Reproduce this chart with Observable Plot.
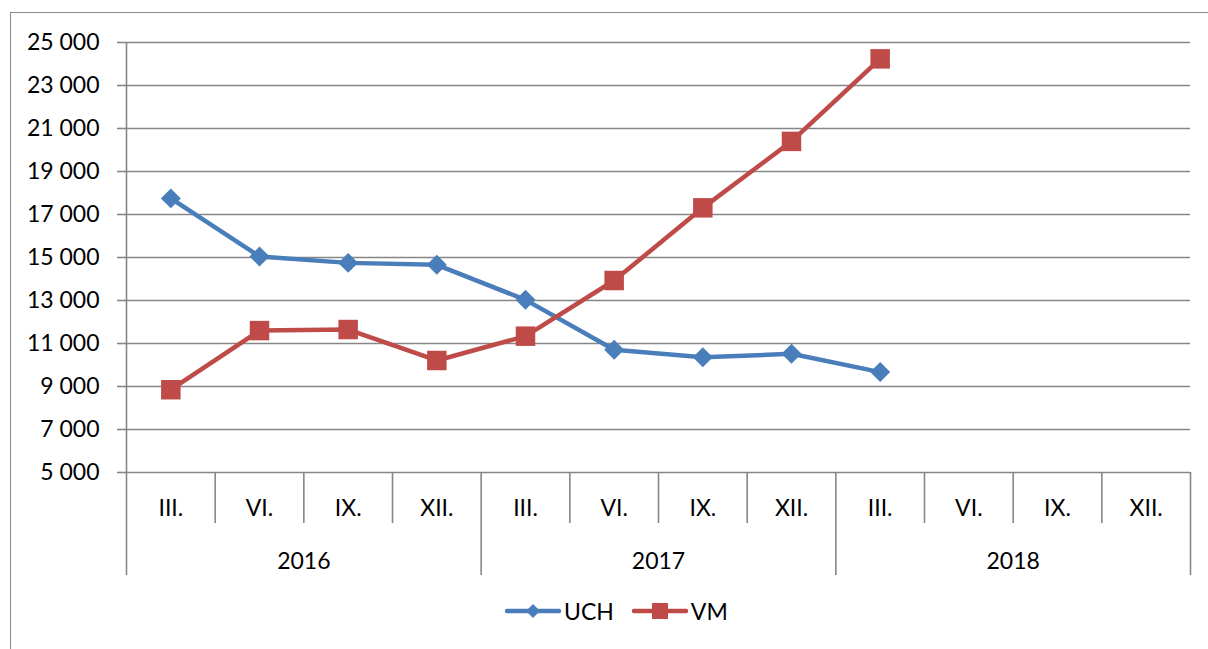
<!DOCTYPE html>
<html>
<head>
<meta charset="utf-8">
<script src="https://cdn.jsdelivr.net/npm/d3@7"></script>
<script src="https://cdn.jsdelivr.net/npm/@observablehq/plot@0.6"></script>
<style>
  html, body { margin: 0; padding: 0; background: #fff; }
  #wrap { position: relative; width: 1208px; height: 649px; overflow: hidden; font-family: Lato, "Open Sans", sans-serif; }
  #frame { position: absolute; left: 10px; top: 12px; width: 1300px; height: 700px; border-left: 1.5px solid #8a8a8a; border-top: 1.5px solid #8a8a8a; }
  #chart { position: absolute; left: 0; top: 0; }
  #legend { position: absolute; left: 505px; top: 597px; display: flex; align-items: center; gap: 18px; font-size: 23px; color: #000; }
  .item { display: flex; align-items: center; gap: 3px; }
</style>
</head>
<body>
<div id="wrap">
  <div id="frame"></div>
  <div id="chart"></div>
  <div id="legend"></div>
</div>
<script>
// Category labels
const months = ["III.", "VI.", "IX.", "XII.", "III.", "VI.", "IX.", "XII.", "III.", "VI.", "IX.", "XII."];
const years = ["2016", "2017", "2018"];
// Series values (quarterly)
const uch = [17750, 15050, 14750, 14660, 13030, 10710, 10360, 10520, 9670];
const vm = [8850, 11600, 11650, 10210, 11340, 13930, 17310, 20400, 24240];
const seriesNames = ["UCH", "VM"];
const yTicks = [5000, 7000, 9000, 11000, 13000, 15000, 17000, 19000, 21000, 23000, 25000];

const colors = { UCH: "#4a7ebb", VM: "#be4b48" };
const gray = "#868686";

const rows = [
  ...uch.map((v, i) => ({ series: "UCH", i, x: i + 0.5, value: v })),
  ...vm.map((v, i) => ({ series: "VM", i, x: i + 0.5, value: v }))
];

const fmt = d => d3.format(",")(d).replace(/,/g, " ");
const n = months.length;
const innerTicks = d3.range(0, n + 1).filter(i => i % 4 !== 0);
const yearTicks = d3.range(0, n + 1).filter(i => i % 4 === 0);
const monthCenters = d3.range(n).map(i => i + 0.5);
const yearCenters = years.map((y, k) => k * 4 + 2);

const chart = Plot.plot({
  width: 1208,
  height: 649,
  marginLeft: 126,
  marginRight: 18,
  marginTop: 42,
  marginBottom: 177,
  style: { fontFamily: "Lato, 'Open Sans', sans-serif", fontSize: "23px", color: "#000", background: "transparent", overflow: "visible" },
  x: { type: "linear", domain: [0, n] },
  y: { domain: [5000, 25000] },
  marks: [
    Plot.gridY(yTicks, { stroke: gray, strokeOpacity: 1, strokeWidth: 1.6 }),
    Plot.ruleX([0], { stroke: gray, strokeWidth: 1.6 }),
    Plot.axisY(yTicks, { tickSize: 9, tickPadding: 18, tickFormat: fmt, stroke: gray, strokeWidth: 1.6, strokeOpacity: 1, fontSize: 23, label: null }),
    Plot.axisX(innerTicks, { tickSize: 51, tickPadding: 0, tickFormat: () => "", stroke: gray, strokeWidth: 1.6, strokeOpacity: 1, label: null }),
    Plot.axisX(yearTicks, { tickSize: 103, tickPadding: 0, tickFormat: () => "", stroke: gray, strokeWidth: 1.6, strokeOpacity: 1, label: null }),
    Plot.axisX(monthCenters, { tickSize: 0, tickPadding: 27, tickFormat: d => months[Math.floor(d)], fontSize: 23, label: null }),
    Plot.axisX(yearCenters, { tickSize: 0, tickPadding: 80, tickFormat: d => years[(d - 2) / 4], fontSize: 23, label: null }),
    Plot.line(rows.filter(d => d.series === "UCH"), { x: "x", y: "value", stroke: colors.UCH, strokeWidth: 4.5 }),
    Plot.line(rows.filter(d => d.series === "VM"), { x: "x", y: "value", stroke: colors.VM, strokeWidth: 4.5 }),
    Plot.dot(rows.filter(d => d.series === "UCH"), { x: "x", y: "value", symbol: "diamond2", r: 9, fill: colors.UCH, stroke: "none" }),
    Plot.dot(rows.filter(d => d.series === "VM"), { x: "x", y: "value", symbol: "square", r: 11, fill: colors.VM, stroke: "none" })
  ]
});
document.getElementById("chart").appendChild(chart);

// Legend
const legend = document.getElementById("legend");
seriesNames.forEach(name => {
  const item = document.createElement("div");
  item.className = "item";
  const sym = name === "UCH"
    ? `<path d="M28,7 L35,14 L28,21 L21,14 Z" fill="${colors[name]}"/>`
    : `<rect x="20" y="6" width="16" height="16" fill="${colors[name]}"/>`;
  item.innerHTML = `<svg width="56" height="28"><line x1="2" y1="14" x2="54" y2="14" stroke="${colors[name]}" stroke-width="4.5" stroke-linecap="round"/>${sym}</svg><span>${name}</span>`;
  legend.appendChild(item);
});
</script>
</body>
</html>
